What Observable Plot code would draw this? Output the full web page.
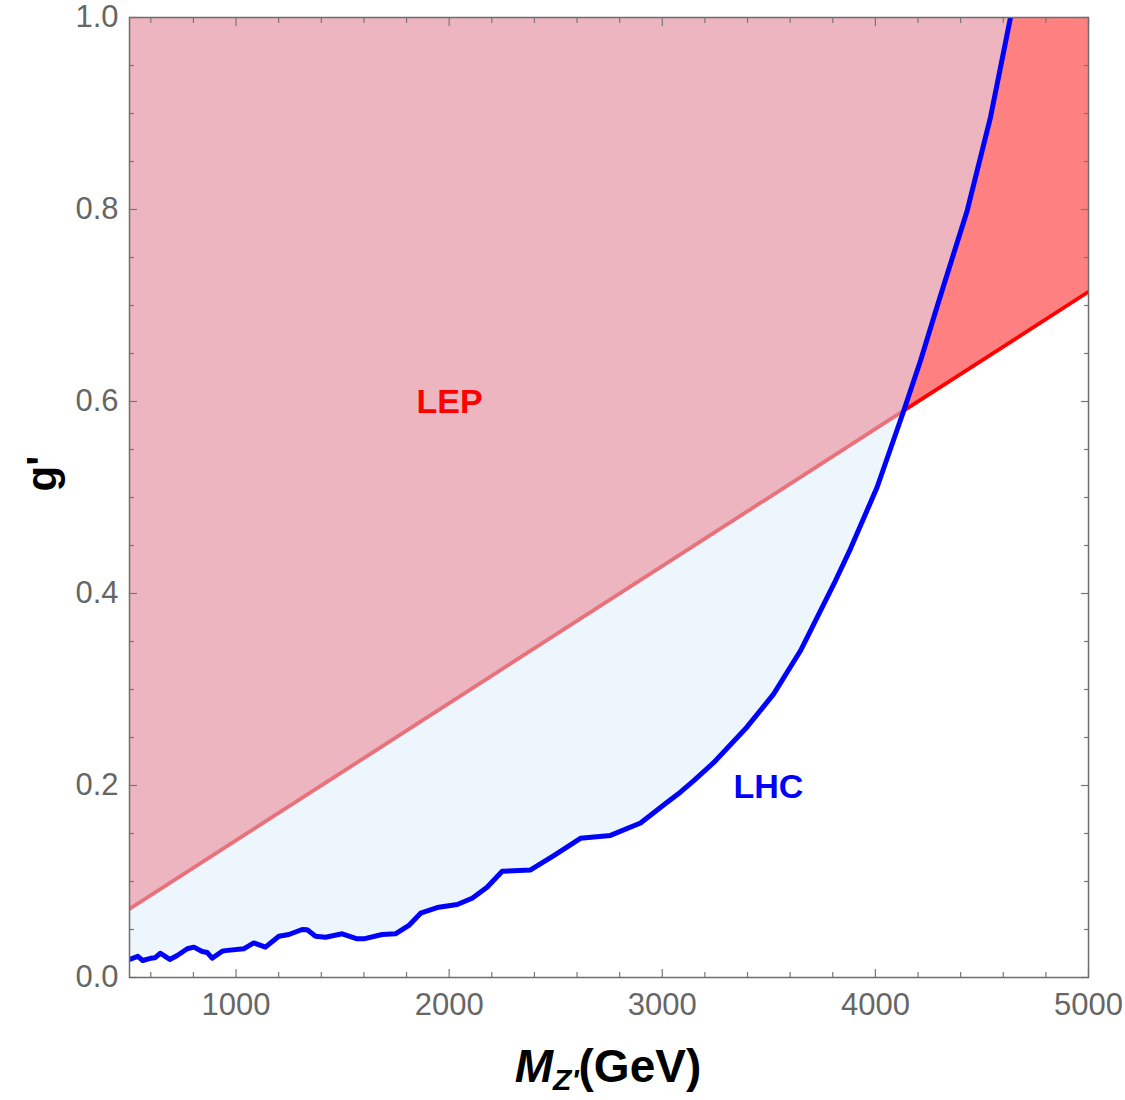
<!DOCTYPE html>
<html>
<head>
<meta charset="utf-8">
<script src="https://cdn.jsdelivr.net/npm/d3@7"></script>
<script src="https://cdn.jsdelivr.net/npm/@observablehq/plot@0.6"></script>
<style>
  html, body { margin: 0; padding: 0; background: #fff; }
  #chart svg { display: block; }
</style>
</head>
<body>
<div id="chart"></div>
<script>
// LHC dilepton exclusion contour: coupling g' versus Z' mass (GeV)
const lhcMass = [500, 539, 562, 599, 619, 645, 689, 724, 771, 802, 841, 865, 888, 935, 950, 1036, 1083, 1138, 1201, 1248,
  1310, 1334, 1373, 1420, 1498, 1568, 1599, 1686, 1748, 1811, 1866, 1951, 2038, 2108, 2178, 2249, 2382, 2491, 2616, 2757,
  2898, 3023, 3085, 3148, 3242, 3398, 3523, 3649, 3742, 3813, 3883, 4008, 4133, 4212, 4298, 4431, 4540, 4634];
const lhcCoupling = [0.0188, 0.022, 0.0177, 0.020, 0.0205, 0.0253, 0.0188, 0.0229, 0.0299, 0.0316, 0.027, 0.026, 0.0201, 0.0274, 0.028, 0.0299, 0.036, 0.0316, 0.043, 0.0448,
  0.050, 0.0497, 0.043, 0.042, 0.0455, 0.0403, 0.0403, 0.0448, 0.0455, 0.0542, 0.067, 0.0732, 0.076, 0.0826, 0.094, 0.1107, 0.112, 0.127, 0.145, 0.148,
  0.161, 0.1826, 0.193, 0.205, 0.224, 0.261, 0.2955, 0.3406, 0.382, 0.4135, 0.4465, 0.5107, 0.5904, 0.6427, 0.705, 0.799, 0.896, 1.0];

// LEP bound M_Z'/g' = 7 TeV: a straight line across the plotted mass range
const lepMass = [500, 5000];
const lepCoupling = [0.0714, 0.7143];
// mass where the LHC contour crosses the LEP line
const crossingMass = 4133;

// region labels
const labelText = ["LEP", "LHC"];
const labelMass = [2002, 3498];
const labelCoupling = [0.599, 0.198];
const labelColor = ["#ff0000", "#0000ff"];

// ticks
const xMajor = [1000, 2000, 3000, 4000, 5000];
const xMinor = [600, 800, 1200, 1400, 1600, 1800, 2200, 2400, 2600, 2800, 3200, 3400, 3600, 3800, 4200, 4400, 4600, 4800];
const yMajor = [0, 0.2, 0.4, 0.6, 0.8, 1.0];
const yMinor = [0.05, 0.1, 0.15, 0.25, 0.3, 0.35, 0.45, 0.5, 0.55, 0.65, 0.7, 0.75, 0.85, 0.9, 0.95];

const lepAt = d3.scaleLinear(lepMass, lepCoupling);
const lepRows = lepMass.map((M, i) => ({M, g: lepCoupling[i]}));
const lhcRows = lhcMass.map((M, i) => ({M, g: lhcCoupling[i], lep: lepAt(M)}));
const lepLeft = [lepMass[0], crossingMass].map(M => ({M, g: lepAt(M)}));
const lepRight = [crossingMass, lepMass[1]].map(M => ({M, g: lepAt(M)}));
const labels = labelText.map((t, i) => ({t, M: labelMass[i], g: labelCoupling[i], c: labelColor[i]}));

const tickColor = "#777";
const font = "'Liberation Sans', Arial, Helvetica, sans-serif";

const tickAxes = [];
for (const [anchor, size, ticks] of [["bottom", -8, xMajor], ["bottom", -5, xMinor], ["top", -8, xMajor], ["top", -5, xMinor]]) {
  tickAxes.push(Plot.axisX({anchor, ticks, tickSize: size, tickFormat: () => "", stroke: tickColor, strokeWidth: 1.2, label: null}));
}
for (const [anchor, size, ticks] of [["left", -8, yMajor], ["left", -5, yMinor], ["right", -8, yMajor], ["right", -5, yMinor]]) {
  tickAxes.push(Plot.axisY({anchor, ticks, tickSize: size, tickFormat: () => "", stroke: tickColor, strokeWidth: 1.2, label: null}));
}

const chart = Plot.plot({
  width: 1125,
  height: 1100,
  marginLeft: 129,
  marginRight: 37,
  marginTop: 17,
  marginBottom: 123,
  style: {fontFamily: font, background: "#fff"},
  x: {domain: [500, 5000]},
  y: {domain: [0, 1]},
  marks: [
    // LEP-excluded band (not excluded by LHC)
    Plot.areaY(lepRows, {x: "M", y1: "g", y2: 1, fill: "#ff8080", clip: true}),
    // excluded by both
    Plot.areaY(lhcRows, {x: "M", y1: d => Math.max(d.g, d.lep), y2: 1, fill: "#ecb5bf", clip: true}),
    // LHC-only excluded region
    Plot.areaY(lhcRows.filter(d => d.M <= crossingMass), {x: "M", y1: "g", y2: "lep", fill: "#edf5fd", clip: true}),
    // LEP boundary
    Plot.line(lepLeft, {x: "M", y: "g", stroke: "#e8717b", strokeWidth: 3.8, clip: true}),
    Plot.line(lepRight, {x: "M", y: "g", stroke: "#ff0000", strokeWidth: 3.8, clip: true}),
    // LHC boundary
    Plot.line(lhcRows, {x: "M", y: "g", stroke: "#0000ff", strokeWidth: 5, strokeLinejoin: "round", clip: true}),
    // region labels
    Plot.text(labels, {x: "M", y: "g", text: "t", fill: "c", fontSize: 34, fontWeight: "bold"}),
    // tick labels
    Plot.axisX({anchor: "bottom", ticks: xMajor, tickSize: 0, tickPadding: 15, fontSize: 31, fill: "#666", tickFormat: "d", label: null}),
    Plot.axisY({anchor: "left", ticks: yMajor, tickSize: 0, tickPadding: 11, fontSize: 31, fill: "#666", tickFormat: ".1f", label: null}),
    ...tickAxes,
    Plot.frame({stroke: "#6e6e6e", strokeWidth: 1.5}),
    // y axis title
    Plot.text(["g'"], {frameAnchor: "left", dx: -87, dy: -6, rotate: -90, fontSize: 42, fontWeight: "bold", fill: "#000"})
  ]
});

// x axis title with italic mass symbol and subscript
const svg = d3.select(chart);
const title = svg.append("text")
  .attr("x", 608)
  .attr("y", 1082)
  .attr("text-anchor", "middle")
  .attr("font-family", font)
  .attr("font-weight", "bold")
  .attr("fill", "#000");
title.append("tspan").attr("font-style", "italic").attr("font-size", 46).text("M");
title.append("tspan").attr("font-style", "italic").attr("font-size", 30).attr("dy", 8).text("Z'");
title.append("tspan").attr("font-size", 46).attr("dy", -8).text("(GeV)");

document.getElementById("chart").appendChild(chart);
</script>
</body>
</html>
